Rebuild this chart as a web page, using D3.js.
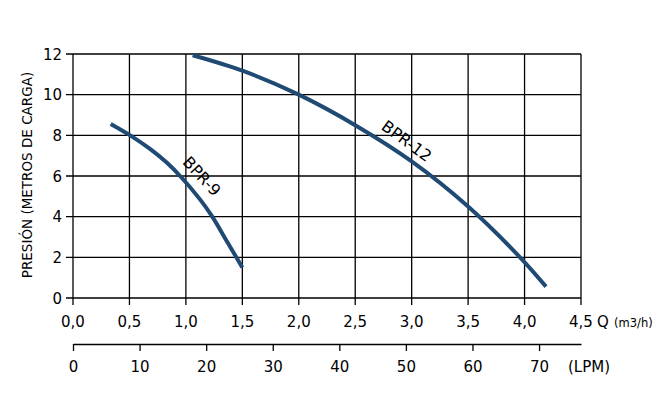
<!DOCTYPE html>
<html>
<head>
<meta charset="utf-8">
<script src="https://cdn.jsdelivr.net/npm/d3@7"></script>
<style>
  body { margin: 0; background: #fff; }
  svg { display: block; font-family: "DejaVu Sans", sans-serif; }
</style>
</head>
<body>
<div id="chart"></div>
<script>
// flow in m3/h and pressure in metres
var bpr9Q = [0.334, 0.5, 0.682, 0.83, 0.957, 1.125, 1.228, 1.36, 1.5];
var bpr9H = [8.56, 8.02, 7.33, 6.66, 5.95, 4.85, 4.05, 2.82, 1.5];
var bpr12Q = [1.06, 1.5, 2.0, 2.5, 3.0, 3.5, 3.96, 4.19];
var bpr12H = [11.94, 11.18, 10.0, 8.5, 6.72, 4.5, 2.0, 0.56];

var qTicks = [0, 0.5, 1, 1.5, 2, 2.5, 3, 3.5, 4, 4.5];
var hTicks = [0, 2, 4, 6, 8, 10, 12];
var lpmTicks = [0, 10, 20, 30, 40, 50, 60, 70];

var width = 671, height = 394;
var svg = d3.select("#chart").append("svg")
    .attr("width", width)
    .attr("height", height);

var x = d3.scaleLinear().domain([0, 4.5]).range([73, 581]);
var y = d3.scaleLinear().domain([0, 12]).range([298, 54]);
var xl = d3.scaleLinear().domain([0, 76.3]).range([73, 581]);

var fmt = function(d) { return d3.format(".1f")(d).replace(".", ","); };

// grid
var grid = svg.append("g").attr("stroke", "#000").attr("stroke-width", 1.3);
grid.selectAll("line.v").data(qTicks).enter().append("line")
    .attr("x1", d => x(d)).attr("x2", d => x(d))
    .attr("y1", y(12)).attr("y2", y(0) + 7);
grid.selectAll("line.h").data(hTicks).enter().append("line")
    .attr("x1", x(0) - 7).attr("x2", x(4.5))
    .attr("y1", d => y(d)).attr("y2", d => y(d));

// tick labels
svg.append("g").selectAll("text").data(hTicks).enter().append("text")
    .attr("x", x(0) - 11).attr("y", d => y(d) + 5.5)
    .attr("text-anchor", "end")
    .attr("font-size", 15)
    .text(d => d);

svg.append("g").selectAll("text").data(qTicks).enter().append("text")
    .attr("x", d => x(d)).attr("y", 327)
    .attr("text-anchor", "middle")
    .attr("font-size", 15)
    .text(fmt);

svg.append("text").attr("x", 597).attr("y", 327).attr("font-size", 15).text("Q");
svg.append("text").attr("x", 614).attr("y", 327).attr("font-size", 11.5).text("(m3/h)");

// second axis in LPM
var lpm = svg.append("g").attr("transform", "translate(0,344)");
lpm.call(d3.axisBottom(xl).tickValues(lpmTicks).tickSize(7).tickPadding(10).tickSizeOuter(0));
lpm.select(".domain").attr("stroke-width", 1.3);
lpm.selectAll(".tick line").attr("stroke-width", 1.3);
lpm.selectAll(".tick text").attr("font-size", 15).attr("font-family", "DejaVu Sans").attr("fill", "#000");
svg.append("text").attr("x", 568).attr("y", 372).attr("font-size", 15).text("(LPM)");

// y title
svg.append("text")
    .attr("transform", "translate(32,175) rotate(-90)")
    .attr("text-anchor", "middle")
    .attr("font-size", 13.5)
    .text("PRESIÓN (METROS DE CARGA)");

// curves
var line = d3.line()
    .x(d => x(d[0])).y(d => y(d[1]))
    .curve(d3.curveCatmullRom.alpha(0.5));

[[bpr9Q, bpr9H], [bpr12Q, bpr12H]].forEach(function(s) {
    svg.append("path")
        .datum(d3.zip(s[0], s[1]))
        .attr("d", line)
        .attr("fill", "none")
        .attr("stroke", "#1f4a73")
        .attr("stroke-width", 4);
});

// curve names
svg.append("text")
    .attr("transform", "translate(201,177) rotate(47)")
    .attr("text-anchor", "middle").attr("dominant-baseline", "middle")
    .attr("font-size", 16)
    .text("BPR-9");
svg.append("text")
    .attr("transform", "translate(406,142) rotate(36.5)")
    .attr("text-anchor", "middle").attr("dominant-baseline", "middle")
    .attr("font-size", 16)
    .text("BPR-12");
</script>
</body>
</html>
